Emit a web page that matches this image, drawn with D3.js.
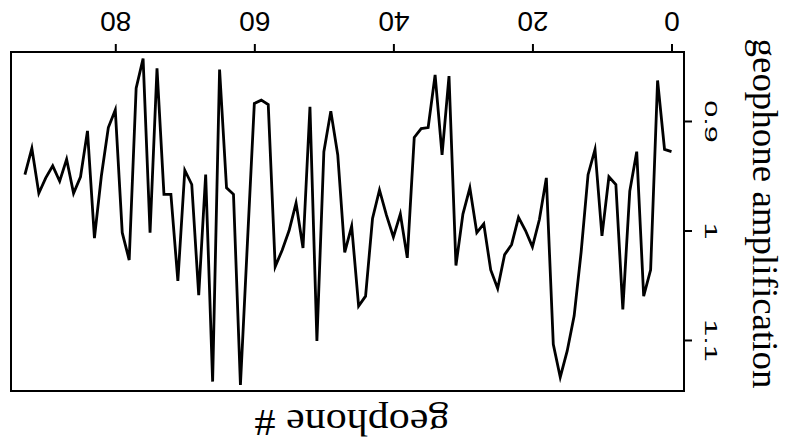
<!DOCTYPE html>
<html>
<head>
<meta charset="utf-8">
<script src="https://cdn.jsdelivr.net/npm/d3@7"></script>
<style>
  body { margin: 0; background: #fff; }
  svg { display: block; }
</style>
</head>
<body>
<div id="chart"></div>
<script>
// amplification per geophone, geophone # = array index (0..93)
const amplification = [
  0.928, 0.926, 0.863, 1.036, 1.060, 0.928, 0.964, 1.072, 0.958, 0.951,
  1.005, 0.926, 0.949, 1.020, 1.078, 1.110, 1.134, 1.104, 0.952, 0.990,
  1.015, 1.000, 0.988, 1.013, 1.022, 1.053, 1.036, 0.994, 1.002, 0.961,
  0.985, 1.032, 0.859, 0.931, 0.858, 0.906, 0.907, 0.915, 1.025, 0.985,
  1.006, 0.986, 0.963, 0.989, 1.060, 1.069, 0.996, 1.020, 0.931, 0.891,
  0.928, 1.101, 0.887, 1.016, 0.975, 1.000, 1.018, 1.033, 0.885, 0.881,
  0.884, 1.012, 1.141, 0.967, 0.961, 0.853, 1.138, 0.949, 1.059, 0.958,
  0.945, 1.046, 0.967, 0.967, 0.852, 1.002, 0.843, 0.870, 1.027, 1.002,
  0.890, 0.906, 0.950, 1.007, 0.909, 0.951, 0.966, 0.935, 0.955, 0.941,
  0.952, 0.966, 0.925, 0.949
];
const geophoneTicks = [0, 20, 40, 60, 80];
const ampTicks = [0.9, 1, 1.1];
const xTitle = "geophone #";
const yTitle = "geophone amplification";

const width = 788;
const height = 445;

// the figure is shown turned on its side: geophone # runs right-to-left
// along the top, amplification runs downwards on the right
const box = { left: 11, right: 684, top: 52, bottom: 391 };

const svg = d3.select("#chart")
  .append("svg")
  .attr("width", width)
  .attr("height", height);

const x = d3.scaleLinear()
  .domain([95, -1.8])
  .range([box.left, box.right]);

const y = d3.scaleLinear()
  .domain([0.837, 1.1466])
  .range([box.top, box.bottom]);

// frame
svg.append("rect")
  .attr("x", box.left)
  .attr("y", box.top)
  .attr("width", box.right - box.left)
  .attr("height", box.bottom - box.top)
  .attr("fill", "none")
  .attr("stroke", "#000")
  .attr("stroke-width", 2);

// geophone # axis (top, labels upside down)
const topAxis = svg.append("g")
  .attr("transform", `translate(0,${box.top})`)
  .call(d3.axisTop(x)
    .tickValues(geophoneTicks)
    .tickSize(8)
    .tickSizeOuter(0)
    .tickFormat(d3.format("d")));

topAxis.select(".domain").remove();
topAxis.selectAll(".tick line").attr("stroke", "#000").attr("stroke-width", 2);
topAxis.selectAll(".tick text")
  .attr("y", 0)
  .attr("dy", "0.36em")
  .attr("text-anchor", "middle")
  .attr("transform", "translate(0,-30) rotate(180)")
  .attr("fill", "#000")
  .style("font-family", "'Liberation Sans', Arial, sans-serif")
  .style("font-size", "28px");

// amplification axis (right, labels turned)
const rightAxis = svg.append("g")
  .attr("transform", `translate(${box.right},0)`)
  .call(d3.axisRight(y)
    .tickValues(ampTicks)
    .tickSize(8)
    .tickSizeOuter(0)
    .tickFormat(d => d === 1 ? "1" : d3.format(".1f")(d)));

rightAxis.select(".domain").remove();
rightAxis.selectAll(".tick line").attr("stroke", "#000").attr("stroke-width", 2);
rightAxis.selectAll(".tick text")
  .attr("x", 0)
  .attr("dy", "0.36em")
  .attr("text-anchor", "middle")
  .attr("transform", "translate(27,0) rotate(90)")
  .attr("fill", "#000")
  .style("font-family", "'Liberation Sans', Arial, sans-serif")
  .style("font-size", "17px")
  .each(function() {
    const len = this.getComputedTextLength();
    d3.select(this)
      .attr("textLength", len * 1.8)
      .attr("lengthAdjust", "spacingAndGlyphs");
  });

// data line
const line = d3.line()
  .x((d, i) => x(i))
  .y(d => y(d));

svg.append("path")
  .datum(amplification)
  .attr("d", line)
  .attr("fill", "none")
  .attr("stroke", "#000")
  .attr("stroke-width", 2.8)
  .attr("stroke-linejoin", "miter")
  .attr("stroke-miterlimit", 6);

// titles
svg.append("text")
  .attr("transform", `translate(753,${(box.top + box.bottom) / 2 - 8}) rotate(90)`)
  .attr("text-anchor", "middle")
  .attr("textLength", 350)
  .attr("lengthAdjust", "spacingAndGlyphs")
  .style("font-family", "'Liberation Serif', 'Times New Roman', serif")
  .style("font-size", "36px")
  .text(yTitle);

svg.append("text")
  .attr("transform", "translate(352,410) rotate(180)")
  .attr("text-anchor", "middle")
  .attr("textLength", 195)
  .attr("lengthAdjust", "spacingAndGlyphs")
  .style("font-family", "'Liberation Serif', 'Times New Roman', serif")
  .style("font-size", "38px")
  .text(xTitle);
</script>
</body>
</html>
